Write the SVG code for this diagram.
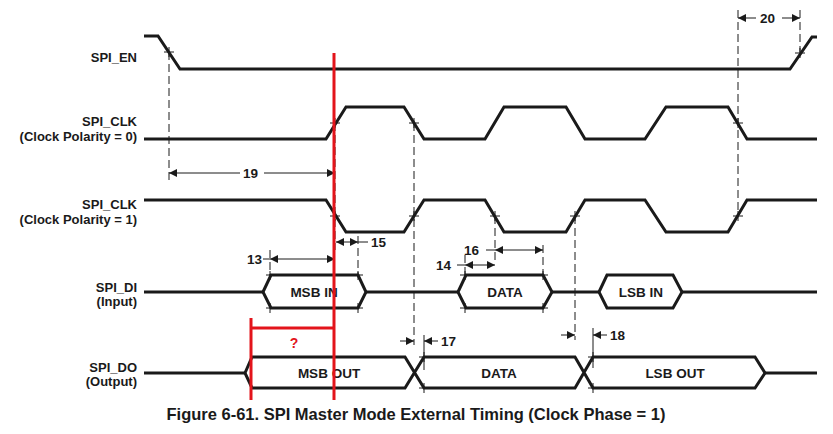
<svg xmlns="http://www.w3.org/2000/svg" width="833" height="434" viewBox="0 0 833 434">
<style>
.sig{fill:none;stroke:#1a1a1a;stroke-width:3;stroke-linejoin:miter}
.dash{fill:none;stroke:#1a1a1a;stroke-width:1;stroke-dasharray:8,4}
.thin{fill:none;stroke:#1a1a1a;stroke-width:1}
.lbl{font-family:"Liberation Sans",Arial,sans-serif;font-weight:bold;font-size:13px;fill:#1a1a1a;text-anchor:end}
.num{font-family:"Liberation Sans",Arial,sans-serif;font-weight:bold;font-size:13.5px;fill:#1a1a1a}
.bus{font-family:"Liberation Sans",Arial,sans-serif;font-weight:bold;font-size:13.5px;fill:#1a1a1a;text-anchor:middle}
.red{stroke:#e3141b;stroke-width:3;fill:none}
</style>
<defs>
<marker id="ah" viewBox="0 0 10 10" refX="10" refY="5" markerWidth="8" markerHeight="8" markerUnits="userSpaceOnUse" orient="auto-start-reverse"><path d="M0,0 L10,5 L0,10 z" fill="#1a1a1a"/></marker>
</defs>
<rect width="833" height="434" fill="#fff"/>
<g id="labels">
<text class="lbl" x="137" y="62">SPI_EN</text>
<text class="lbl" x="137" y="126">SPI_CLK</text>
<text class="lbl" x="137" y="141">(Clock Polarity = 0)</text>
<text class="lbl" x="137" y="209">SPI_CLK</text>
<text class="lbl" x="137" y="224">(Clock Polarity = 1)</text>
<text class="lbl" x="137" y="292">SPI_DI</text>
<text class="lbl" x="137" y="306">(Input)</text>
<text class="lbl" x="137" y="372">SPI_DO</text>
<text class="lbl" x="137" y="386">(Output)</text>
</g>
<g id="connectors">
<path class="dash" d="M169 52V182 M335 123V250 M414 123V345 M495 216V262 M575 216V340 M738 10V216 M800 10V52 M270 250V275 M358 236V275 M465 255V275 M543 245V275"/>
<path class="thin" d="M424 335V370 M593 328V368"/>
<line class="thin" x1="169" y1="173" x2="240" y2="173" marker-start="url(#ah)"/>
<line class="thin" x1="264" y1="173" x2="335" y2="173" marker-end="url(#ah)"/>
<line class="thin" x1="738" y1="18" x2="756" y2="18" marker-start="url(#ah)"/>
<line class="thin" x1="782" y1="18" x2="800" y2="18" marker-end="url(#ah)"/>
<line class="thin" x1="336" y1="242" x2="358" y2="242" marker-start="url(#ah)" marker-end="url(#ah)"/>
<line class="thin" x1="358" y1="242" x2="368" y2="242"/>
<line class="thin" x1="263" y1="259" x2="270" y2="259"/>
<line class="thin" x1="270" y1="259" x2="335" y2="259" marker-start="url(#ah)" marker-end="url(#ah)"/>
<line class="thin" x1="457" y1="265" x2="465" y2="265"/>
<line class="thin" x1="465" y1="265" x2="495" y2="265" marker-start="url(#ah)" marker-end="url(#ah)"/>
<line class="thin" x1="486" y1="250" x2="495" y2="250"/>
<line class="thin" x1="495" y1="250" x2="543" y2="250" marker-start="url(#ah)" marker-end="url(#ah)"/>
<line class="thin" x1="400" y1="341" x2="414" y2="341" marker-end="url(#ah)"/>
<line class="thin" x1="438" y1="341" x2="424" y2="341" marker-end="url(#ah)"/>
<line class="thin" x1="561" y1="335" x2="575" y2="335" marker-end="url(#ah)"/>
<line class="thin" x1="607" y1="335" x2="593" y2="335" marker-end="url(#ah)"/>
<text class="num" x="243" y="178">19</text>
<text class="num" x="760" y="23">20</text>
<text class="num" x="371" y="247">15</text>
<text class="num" x="247" y="264">13</text>
<text class="num" x="436" y="270">14</text>
<text class="num" x="464" y="255">16</text>
<text class="num" x="441" y="346">17</text>
<text class="num" x="610" y="340">18</text>
</g>
<g id="spi_en"><path class="sig" d="M144 36H158L180 69H790L812 37H817"/><path class="thin" d="M164 52H174M169 47V57M795 53H805M800 48V58"/></g>
<g id="spi_clk0"><path class="sig" d="M144 139H326L346 107H404L424 139H485L504 107H566L585 139H645L666 107H728L747 139H817"/><path class="thin" d="M330 123H340M335 118V128M409 123H419M414 118V128M733 123H743M738 118V128"/></g>
<g id="spi_clk1"><path class="sig" d="M144 200H326L346 232H404L424 200H485L504 232H566L585 200H645L666 232H728L747 200H817"/><path class="thin" d="M330 216H340M335 211V221M409 216H419M414 211V221M490 216H500M495 211V221M570 216H580M575 211V221M733 216H743M738 211V221"/></g>
<g id="spi_di">
<path class="sig" d="M144 292H263M366 292H458M552 292H599M682 292H817"/>
<path class="sig" d="M263 292L271 275H358L366 292L358 308H271Z"/>
<path class="sig" d="M458 292L466 275H543L552 292L543 308H466Z"/>
<path class="sig" d="M599 292L607 275H673L682 292L673 308H607Z"/>
<path class="thin" d="M266 275H276M270 271V280M266 308H276M270 303V313M353 275H363M358 271V280M353 308H363M358 303V313M460 275H470M465 271V280M460 308H470M465 303V313M538 275H548M543 271V280M538 308H548M543 303V313"/>
<text class="bus" x="314" y="297">MSB IN</text>
<text class="bus" x="505" y="297">DATA</text>
<text class="bus" x="641" y="297">LSB IN</text>
</g>
<g id="spi_do">
<path class="sig" d="M144 373H245M765 373H817"/>
<path class="sig" d="M245 373L252 357H405L424 388H575L593 357H755L765 373L755 388H593L575 357H424L405 388H252Z"/>
<path class="thin" d="M419 357H429M424 352V362M419 388H429M424 383V393M588 357H598M593 352V362M588 388H598M593 383V393"/>
<text class="bus" x="329" y="378">MSB OUT</text>
<text class="bus" x="499" y="378">DATA</text>
<text class="bus" x="675" y="378">LSB OUT</text>
</g>
<g id="annotation">
<path class="red" d="M334 53V400M251 318V400M251 328H334"/>
<text x="294" y="348" font-family="Liberation Sans,Arial,sans-serif" font-weight="bold" font-size="14" fill="#e3141b" text-anchor="middle">?</text>
</g>
<text x="416" y="420" font-family="Liberation Sans,Arial,sans-serif" font-weight="bold" font-size="16.5" fill="#1a1a1a" text-anchor="middle">Figure 6-61. SPI Master Mode External Timing (Clock Phase = 1)</text>
</svg>
